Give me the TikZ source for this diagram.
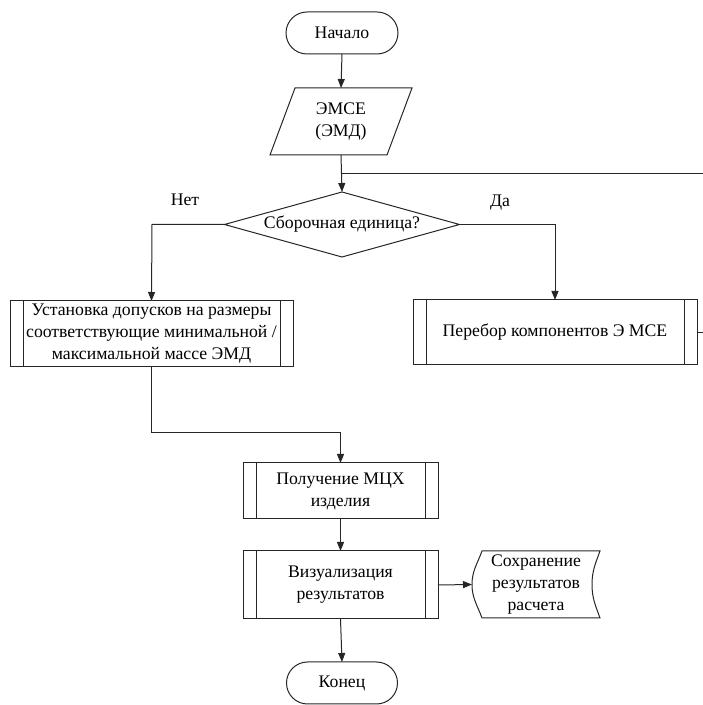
\documentclass[tikz,border=0pt]{standalone}
\usepackage{fontspec}
\setmainfont{Liberation Serif}
\usetikzlibrary{arrows.meta,calc}
\begin{document}
\begin{tikzpicture}[x=1pt,y=1pt,
  every node/.style={font=\fontsize{17.7}{22}\selectfont, align=center, inner sep=0pt, outer sep=0pt},
  line/.style={line width=1pt, draw=black!85},
  arr/.style={line, -{Triangle[length=9pt,width=7pt]}},
  term/.style={line, draw, rectangle, rounded corners=21pt, minimum height=42pt},
  sub/.style={line, draw, rectangle, path picture={
     \draw[line] ([xshift=13pt]path picture bounding box.north west) -- ([xshift=13pt]path picture bounding box.south west);
     \draw[line] ([xshift=-13pt]path picture bounding box.north east) -- ([xshift=-13pt]path picture bounding box.south east);}},
  plain/.style={rectangle}
]
\useasboundingbox (0,0) rectangle (703,705);

\node[term, minimum width=112pt] (start) at (342,672) {Начало};
\node[plain, minimum width=117pt, minimum height=67pt] (io) at (341,583.5) {ЭМСЕ\\(ЭМД)};
\draw[line] ([xshift=-12.5pt]io.south west) -- ([xshift=12.5pt]io.north west) -- ([xshift=12.5pt]io.north east) -- ([xshift=-12.5pt]io.south east) -- cycle;

\node[plain, minimum width=235pt, minimum height=65pt] (dec) at (342,480.5) {Сборочная единица?};
\draw[line] (dec.north) -- (dec.east) -- (dec.south) -- (dec.west) -- cycle;

\node[sub, minimum width=283pt, minimum height=66pt] (L) at (151.5,371) {Установка допусков на размеры\\соответствующие минимальной /\\максимальной массе ЭМД};
\node[sub, minimum width=284pt, minimum height=65pt] (R) at (555,372.5) {Перебор компонентов Э МСЕ};
\node[sub, minimum width=195pt, minimum height=56pt] (P) at (340.5,214) {Получение МЦХ\\изделия};
\node[sub, minimum width=195pt, minimum height=68pt] (V) at (340.5,120) {Визуализация\\результатов};
\node[term, minimum width=111pt] (end) at (342,22) {Конец};

\node[plain, minimum width=128pt, minimum height=67pt] (st) at (536,120.5) {Сохранение\\результатов\\расчета};
\draw[line] (482,154) to[out=250,in=90] (st.west) to[out=-90,in=110] (482,87) -- (600,87)
  to[out=110,in=-90] (592,120.5) to[out=90,in=250] (600,154) -- cycle;

\coordinate (m) at (342,531);
\coordinate (mr) at (703,531);
\coordinate (rr) at (703,372.5);
\coordinate (lb) at (152,480.5);
\coordinate (rb) at (555,480.5);
\coordinate (lo) at (151.5,272);
\coordinate (po) at (340.5,272);

\draw[arr] (start.south) -- (io.north);
\draw[arr] (io.south) -- (dec.north);
\draw[line] (mr) -- (m);
\draw[arr] (dec.west) -- (lb) -- (L.north);
\draw[arr] (dec.east) -- (rb) -- (R.north);
\draw[line] (R.east) -- (rr);
\draw[arr] (L.south) -- (lo) -- (po) -- (P.north);
\draw[arr] (P.south) -- (V.north);
\draw[arr] (V.south) -- (end.north);
\draw[arr] (V.east) -- (st.west);

\node (no) at (185,505) {Нет};
\node (yes) at (500,502) {Да};
\end{tikzpicture}
\end{document}
